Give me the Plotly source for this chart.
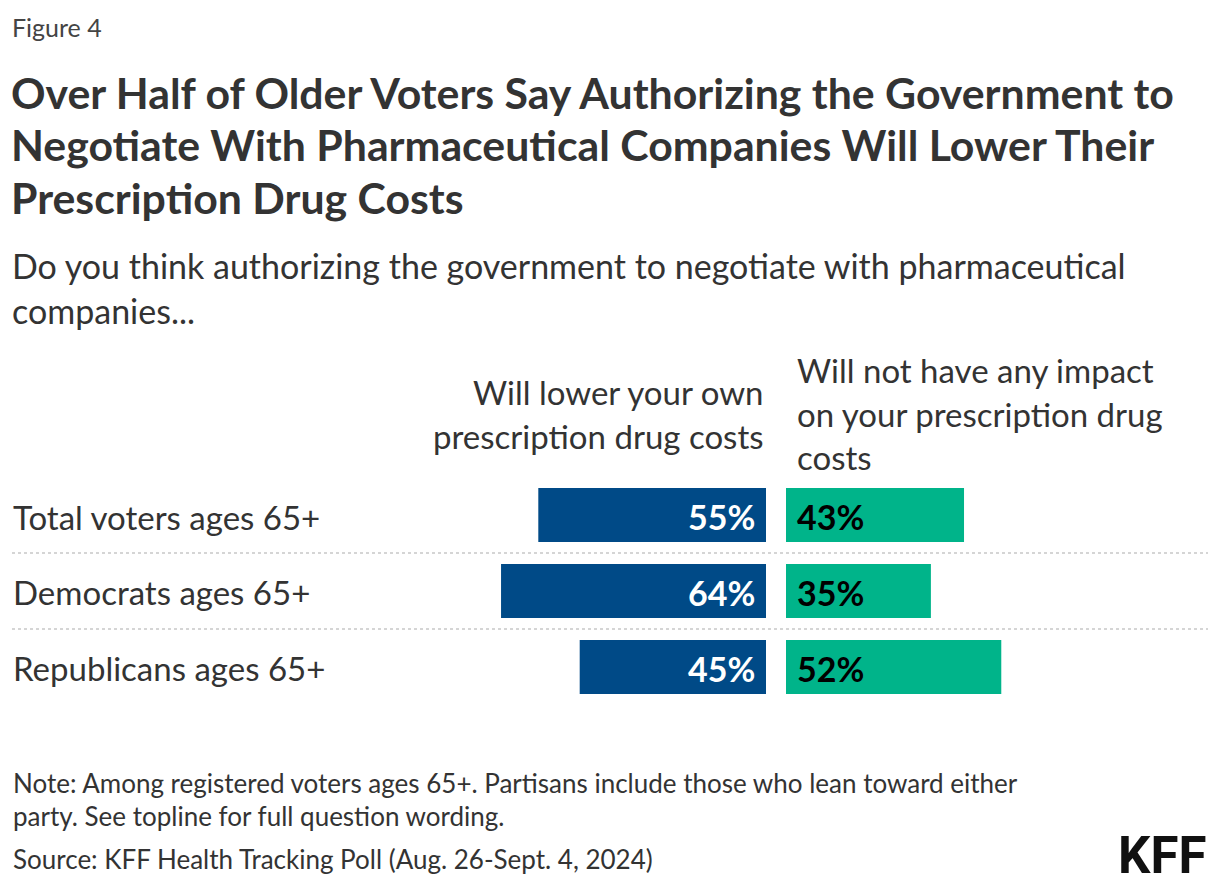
import plotly.graph_objects as go

W, H = 1220, 888

categories = ["Total voters ages 65+", "Democrats ages 65+", "Republicans ages 65+"]
will_lower = [55, 64, 45]
no_impact = [43, 35, 52]
series_names = ["Will lower your own<br>prescription drug costs",
                "Will not have any impact<br>on your prescription drug<br>costs"]

BLUE = "#004A87"
GREEN = "#00B48A"
TXT = "#333333"
FONT = "Lato"

def py(y):
    return 1 - y / H

def px(x):
    return x / W

PXU = 4.14  # pixels per percentage point
blue_left, blue_right = 490, 766
green_left, green_right = 786, 1208

fig = go.Figure()
fig.add_bar(y=categories, x=will_lower, orientation="h", xaxis="x", yaxis="y",
            marker=dict(color=BLUE, line=dict(width=0)), width=0.71, hoverinfo="skip")
fig.add_bar(y=categories, x=no_impact, orientation="h", xaxis="x2", yaxis="y",
            marker=dict(color=GREEN, line=dict(width=0)), width=0.71, hoverinfo="skip")

ann = []
def txt(x, y, s, size, color=TXT, xanchor="left", weight=400, family=FONT):
    ann.append(dict(x=px(x), y=py(y), xref="paper", yref="paper", text=s, showarrow=False,
                    xanchor=xanchor, yanchor="middle", align=xanchor,
                    font=dict(size=size, color=color, family=family, weight=weight)))

txt(10, 27, "Figure 4", 25, color="#444444")
title_lines = ["Over Half of Older Voters Say Authorizing the Government to",
               "Negotiate With Pharmaceutical Companies Will Lower Their",
               "Prescription Drug Costs"]
for i, s in enumerate(title_lines):
    txt(9, 92 + 52.5 * i, s, 42.8, weight=700)
sub_lines = ["Do you think authorizing the government to negotiate with pharmaceutical",
             "companies..."]
for i, s in enumerate(sub_lines):
    txt(10, 266 + 44 * i, s, 34)

for i, s in enumerate(series_names[0].split("<br>")):
    txt(766, 392 + 44 * i, s, 33, xanchor="right")
for i, s in enumerate(series_names[1].split("<br>")):
    txt(795, 370 + 43.5 * i, s, 33)

row_y = [517, 592, 668]
for c, y in zip(categories, row_y):
    txt(11, y, c, 33)

for c, v in zip(categories, will_lower):
    ann.append(dict(x=0, y=c, xref="x", yref="y", text=f"{v}%", showarrow=False,
                    xanchor="right", yanchor="middle", xshift=-9, yshift=-1,
                    font=dict(size=34, color="white", family=FONT, weight=700)))
for c, v in zip(categories, no_impact):
    ann.append(dict(x=0, y=c, xref="x2", yref="y", text=f"{v}%", showarrow=False,
                    xanchor="left", yanchor="middle", xshift=9, yshift=-1,
                    font=dict(size=34, color="black", family=FONT, weight=700)))

note_lines = ["Note: Among registered voters ages 65+. Partisans include those who lean toward either",
              "party. See topline for full question wording."]
for i, s in enumerate(note_lines):
    txt(11, 783 + 33 * i, s, 26)
txt(11, 859, "Source: KFF Health Tracking Poll (Aug. 26-Sept. 4, 2024)", 26)
ann.append(dict(x=px(1208), y=py(855), xref="paper", yref="paper", text="KFF", showarrow=False,
                xanchor="right", yanchor="middle",
                font=dict(size=51, color="#111111", family="Liberation Sans Narrow, Roboto", weight=700)))

shapes = []
for yv in [0.5, 1.5]:
    shapes.append(dict(type="line", xref="paper", yref="y", x0=px(12), x1=px(1208), y0=yv, y1=yv,
                       line=dict(color="#c8c8c8", width=1.5, dash="dot")))

fig.update_layout(
    width=W, height=H, margin=dict(l=0, r=0, t=0, b=0),
    paper_bgcolor="white", plot_bgcolor="white", showlegend=False, barmode="overlay",
    annotations=ann, shapes=shapes,
    xaxis=dict(domain=[px(blue_left), px(blue_right)], range=[(blue_right - blue_left) / PXU, 0],
               visible=False, fixedrange=True, anchor="y"),
    xaxis2=dict(domain=[px(green_left), px(green_right)], range=[0, (green_right - green_left) / PXU],
                visible=False, fixedrange=True, anchor="y"),
    yaxis=dict(domain=[py(705), py(477)], type="category", categoryarray=categories,
               range=[2.5, -0.5], visible=False, fixedrange=True, anchor="x"),
)
fig.write_html("out.html", config={"displayModeBar": False})
